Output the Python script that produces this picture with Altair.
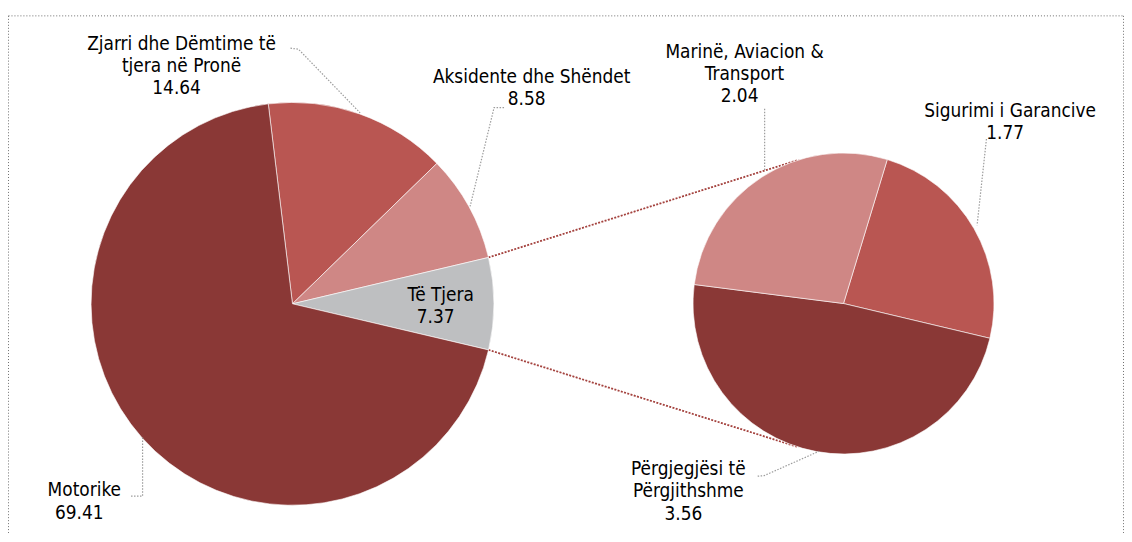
import math
import altair as alt
import pandas as pd

# ---------------- data ----------------
main_cats = ["Zjarri dhe Dëmtime të tjera në Pronë", "Aksidente dhe Shëndet", "Të Tjera", "Motorike"]
main_vals = [14.64, 8.58, 7.37, 69.41]
sub_cats = ["Sigurimi i Garancive", "Përgjegjësi të Përgjithshme", "Marinë, Aviacion & Transport"]
sub_vals = [1.77, 3.56, 2.04]

# label text (line breaks as in the picture)
label_text = {
    "Zjarri dhe Dëmtime të tjera në Pronë": ["Zjarri dhe Dëmtime të", "tjera në Pronë"],
    "Aksidente dhe Shëndet": ["Aksidente dhe Shëndet"],
    "Të Tjera": ["Të Tjera"],
    "Motorike": ["Motorike"],
    "Sigurimi i Garancive": ["Sigurimi i Garancive"],
    "Përgjegjësi të Përgjithshme": ["Përgjegjësi të", "Përgjithshme"],
    "Marinë, Aviacion & Transport": ["Marinë, Aviacion &", "Transport"],
}

# ---------------- styles / layout ----------------
colors = {
    "Motorike": "#8A3836",
    "Zjarri dhe Dëmtime të tjera në Pronë": "#B95652",
    "Aksidente dhe Shëndet": "#CF8785",
    "Të Tjera": "#BEBFC1",
    "Sigurimi i Garancive": "#B95652",
    "Përgjegjësi të Përgjithshme": "#8A3836",
    "Marinë, Aviacion & Transport": "#CF8785",
}
W, H = 1122, 525
MAIN_C, MAIN_R, MAIN_START = (286.0, 296.0), 202.5, -6.9
SUB_C, SUB_R, SUB_START = (840.0, 295.7), 151.3, 16.9
FONT = "DejaVu Sans Condensed, DejaVu Sans"
FS = 19
LH = 22.5

# (center x, y of first line)
label_pos = {
    "Zjarri dhe Dëmtime të tjera në Pronë": (174.5, 34.5),
    "Aksidente dhe Shëndet": (526.5, 68),
    "Të Tjera": (435, 287),
    "Motorike": (76.7, 483.5),
    "Sigurimi i Garancive": (1007.5, 101.7),
    "Përgjegjësi të Përgjithshme": (684, 462),
    "Marinë, Aviacion & Transport": (740.5, 42.5),
}
leaders = {
    "Zjarri dhe Dëmtime të tjera në Pronë": [(284, 39), (292, 40), (354, 104)],
    "Aksidente dhe Shëndet": [(498.7, 98.7), (488.7, 98.7), (464.6, 198)],
    "Marinë, Aviacion & Transport": [(760.7, 100), (760.7, 163)],
    "Sigurimi i Garancive": [(983.7, 130.3), (974.3, 217)],
    "Përgjegjësi të Përgjithshme": [(753.7, 469.3), (760.3, 468.7), (815.3, 444.3)],
    "Motorike": [(123.7, 489.3), (135.3, 489.3), (135.3, 430.3)],
}

all_cats = list(colors.keys())
color_scale = alt.Scale(domain=all_cats, range=[colors[c] for c in all_cats])

# ---------------- tables ----------------
main_df = pd.DataFrame({"cat": main_cats, "value": main_vals, "ord": list(range(len(main_cats)))})
sub_df = pd.DataFrame({"cat": sub_cats, "value": sub_vals, "ord": list(range(len(sub_cats)))})

name_rows, val_rows = [], []
for cats, vals in ((main_cats, main_vals), (sub_cats, sub_vals)):
    for c, v in zip(cats, vals):
        x, y = label_pos[c]
        lines = label_text[c]
        name_rows.append({"txt": "\n".join(lines), "x": x, "y": y})
        val_rows.append({"value": v, "x": x, "y": y + len(lines) * LH})
name_df = pd.DataFrame(name_rows)
val_df = pd.DataFrame(val_rows)

lead_rows = []
for k, pts in leaders.items():
    for i, (x, y) in enumerate(pts):
        lead_rows.append({"lid": k, "idx": i, "x": x, "y": y})
lead_df = pd.DataFrame(lead_rows)


def pt(c, r, deg):
    a = math.radians(deg)
    return c[0] + r * math.sin(a), c[1] - r * math.cos(a)


def tangent(p, c, r, upper):
    dx, dy = c[0] - p[0], c[1] - p[1]
    d = math.hypot(dx, dy)
    phi = math.atan2(dy, dx)
    al = math.asin(r / d)
    ang = phi - al if upper else phi + al
    L = math.sqrt(d * d - r * r)
    return p[0] + L * math.cos(ang), p[1] + L * math.sin(ang)


total = sum(main_vals)
idx = main_cats.index("Të Tjera")
a_start = MAIN_START + 360 * sum(main_vals[:idx]) / total
a_end = a_start + 360 * main_vals[idx] / total
p1 = pt(MAIN_C, MAIN_R, a_start)
p2 = pt(MAIN_C, MAIN_R, a_end)
e1 = tangent(p1, SUB_C, SUB_R, True)
e2 = tangent(p2, SUB_C, SUB_R, False)
series_df = pd.DataFrame([
    {"x": p1[0], "y": p1[1], "x2": e1[0], "y2": e1[1]},
    {"x": p2[0], "y": p2[1], "x2": e2[0], "y2": e2[1]},
])

border_df = pd.DataFrame([
    {"x": 0.5, "y": 6.5, "x2": W - 0.5, "y2": 6.5},
    {"x": 0.5, "y": 6.5, "x2": 0.5, "y2": H + 20},
    {"x": W - 0.5, "y": 6.5, "x2": W - 0.5, "y2": H + 20},
])

X = lambda f: alt.X(f, type="quantitative", scale=None, axis=None)
Y = lambda f: alt.Y(f, type="quantitative", scale=None, axis=None)

border = alt.Chart(border_df).mark_rule(color="#6e6e6e", strokeWidth=1, strokeDash=[1, 2]).encode(
    x=X("x"), y=Y("y"), x2="x2", y2="y2")

series = alt.Chart(series_df).mark_rule(color="#A4423E", strokeWidth=1.8, strokeDash=[2, 1.4]).encode(
    x=X("x"), y=Y("y"), x2="x2", y2="y2")


def pie(df, c, r, start):
    s = math.radians(start)
    return alt.Chart(df).mark_arc(radius=r, stroke="#ffffff", strokeWidth=0.6).encode(
        x=alt.value(c[0]), y=alt.value(c[1]),
        theta=alt.Theta("value:Q", stack=True, scale=alt.Scale(range=[s, s + 2 * math.pi])),
        order=alt.Order("ord:Q"),
        color=alt.Color("cat:N", scale=color_scale, legend=None),
    )


main_pie = pie(main_df, MAIN_C, MAIN_R, MAIN_START)
sub_pie = pie(sub_df, SUB_C, SUB_R, SUB_START)

lead = alt.Chart(lead_df).mark_line(color="#9c9c9c", strokeWidth=1.2, strokeDash=[1.5, 1.5]).encode(
    x=X("x"), y=Y("y"), detail="lid:N", order="idx:Q")

names = alt.Chart(name_df).mark_text(
    lineBreak="\n", align="center", baseline="middle", font=FONT, fontSize=FS,
    lineHeight=LH, color="#000000").encode(x=X("x"), y=Y("y"), text="txt:N")

values = alt.Chart(val_df).mark_text(
    align="center", baseline="middle", font=FONT, fontSize=FS, dx=-5,
    color="#000000").encode(x=X("x"), y=Y("y"), text=alt.Text("value:Q", format=".2f"))

chart = alt.layer(border, series, main_pie, sub_pie, lead, names, values).resolve_scale(
    theta="independent"
).properties(
    width=W, height=H, padding=0, background="white",
    autosize=alt.AutoSizeParams(type="none")
).configure_view(strokeWidth=0, stroke="transparent")

chart.save("out.html", embed_options={"renderer": "svg", "actions": False})
